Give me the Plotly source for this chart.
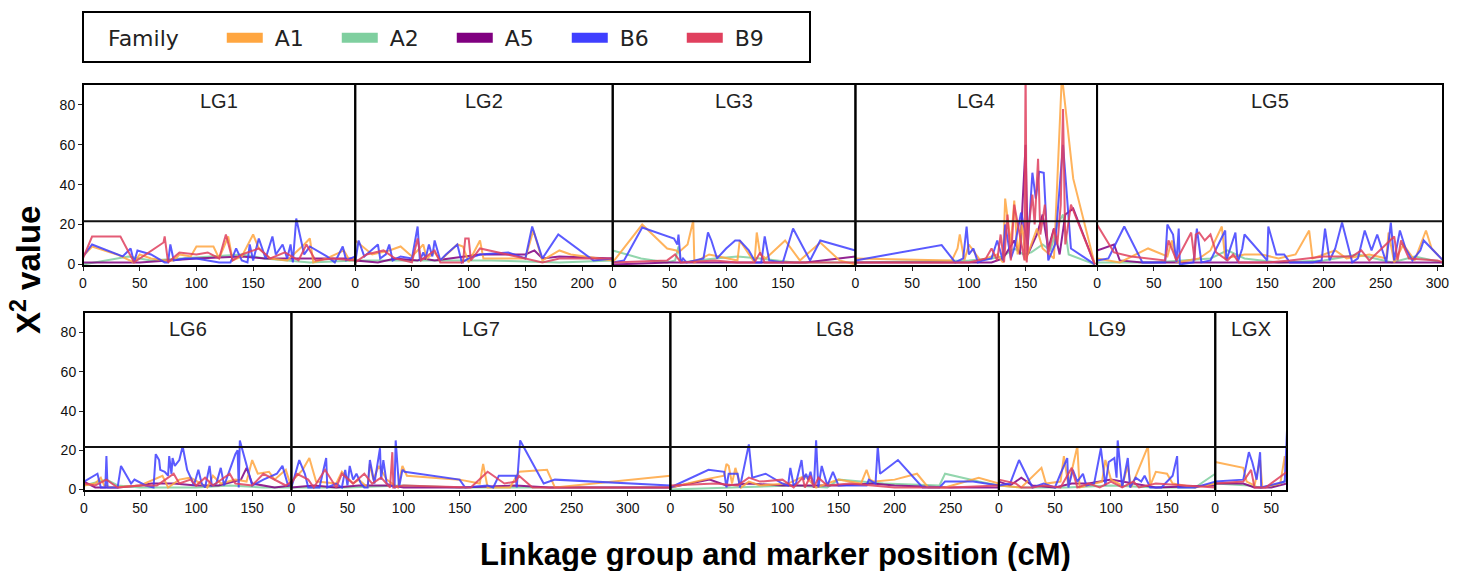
import plotly.graph_objects as go

W, H = 1461, 571

FAMILIES = ["A1", "A2", "A5", "B6", "B9"]
COLORS = {"A1": "#FFA640", "A2": "#7FCF9F", "A5": "#800080", "B6": "#3F3FFF", "B9": "#E0405E"}
DRAW_ORDER = ["A2", "A5", "A1", "B6", "B9"]

LG_NAMES = ["LG1", "LG2", "LG3", "LG4", "LG5", "LG6", "LG7", "LG8", "LG9", "LGX"]
LG_LENGTH = [240, 227, 214, 213, 305, 185, 338, 293, 193, 64]
LG_TICKS = [
    [0, 50, 100, 150, 200], [0, 50, 100, 150, 200], [0, 50, 100, 150], [0, 50, 100, 150],
    [0, 50, 100, 150, 200, 250, 300], [0, 50, 100, 150], [0, 50, 100, 150, 200, 250, 300],
    [0, 50, 100, 150, 200, 250], [0, 50, 100, 150], [0, 50],
]
Y_TICKS = [0, 20, 40, 60, 80]
THRESHOLD = 21.7

# ---------------- LG1 ----------------
LG1_A1_X = [0, 8, 30, 45, 50, 60, 72, 80, 85, 95, 100, 115, 120, 128, 132, 140, 150, 155, 165, 180, 195, 200, 203, 215, 230, 235, 240]
LG1_A1_Y = [4, 9, 5, 1, 5, 3, 2, 2, 5, 4, 9, 9, 3, 14, 2, 4, 15, 8, 3, 2, 10, 13, 1, 3, 7, 2, 3]
LG1_A2_X = [0, 40, 60, 120, 140, 160, 200, 240]
LG1_A2_Y = [0, 4, 2, 4, 5, 3, 1, 2]
LG1_A5_X = [0, 50, 100, 140, 160, 200, 240]
LG1_A5_Y = [1, 1, 3, 4, 3, 3, 3]
LG1_B6_X = [0, 8, 35, 42, 45, 48, 60, 72, 75, 77, 80, 90, 100, 110, 120, 130, 135, 140, 145, 147, 150, 155, 161, 167, 170, 176, 180, 183, 185, 188, 195, 200, 203, 215, 222, 229, 232, 240]
LG1_B6_Y = [4, 10, 4, 8, 1, 7, 5, 1, 1, 10, 2, 3, 3, 2, 1, 1, 8, 2, 1, 10, 2, 13, 3, 14, 5, 10, 3, 10, 1, 23, 5, 9, 8, 4, 1, 9, 2, 4]
LG1_B9_X = [0, 8, 33, 45, 71, 72, 75, 85, 100, 110, 120, 126, 132, 140, 155, 165, 178, 190, 197, 205, 220, 240]
LG1_B9_Y = [3, 14, 14, 1, 11, 14, 1, 6, 5, 6, 3, 15, 2, 5, 8, 3, 6, 2, 10, 2, 3, 2]

# ---------------- LG2 ----------------
LG2_A1_X = [0, 15, 30, 40, 50, 60, 63, 70, 75, 90, 95, 100, 110, 113, 150, 157, 165, 180, 190, 227]
LG2_A1_Y = [12, 5, 7, 9, 4, 10, 3, 6, 2, 10, 9, 1, 12, 3, 3, 17, 2, 7, 5, 2]
LG2_A2_X = [0, 60, 120, 180, 227]
LG2_A2_Y = [2, 2, 2, 1, 2]
LG2_A5_X = [0, 20, 35, 55, 60, 70, 110, 150, 158, 165, 180, 227]
LG2_A5_Y = [2, 1, 3, 2, 3, 2, 5, 5, 7, 3, 4, 3]
LG2_B6_X = [0, 3, 8, 20, 22, 27, 30, 33, 40, 50, 55, 57, 60, 62, 65, 68, 70, 75, 80, 90, 94, 100, 110, 135, 150, 156, 165, 179, 210, 227]
LG2_B6_Y = [1, 12, 4, 10, 3, 5, 10, 2, 4, 3, 19, 2, 6, 3, 10, 4, 12, 2, 5, 10, 1, 3, 5, 6, 3, 19, 3, 15, 2, 3]
LG2_B9_X = [0, 10, 25, 35, 50, 55, 58, 70, 75, 95, 97, 100, 102, 110, 150, 165, 180, 227]
LG2_B9_Y = [1, 5, 7, 3, 1, 13, 2, 7, 1, 1, 13, 13, 2, 8, 3, 1, 3, 3]

# ---------------- LG3 ----------------
LG3_A1_X = [0, 26, 48, 56, 58, 66, 71, 72, 85, 100, 110, 112, 120, 125, 127, 130, 135, 152, 165, 183, 200, 214]
LG3_A1_Y = [1, 20, 8, 7, 6, 10, 22, 1, 5, 3, 2, 12, 5, 1, 16, 5, 3, 12, 2, 11, 2, 0]
LG3_A2_X = [0, 25, 48, 55, 58, 60, 90, 110, 130, 160, 180, 214]
LG3_A2_Y = [7, 3, 1, 2, 9, 1, 3, 4, 3, 1, 1, 1]
LG3_A5_X = [0, 50, 100, 130, 170, 214]
LG3_A5_Y = [0, 1, 1, 1, 1, 4]
LG3_B6_X = [0, 10, 26, 49, 54, 57, 58, 60, 62, 65, 80, 84, 87, 92, 100, 108, 112, 120, 126, 131, 134, 138, 150, 159, 174, 183, 214]
LG3_B6_Y = [1, 2, 18.5, 14, 13, 10, 15, 1, 3, 1, 3, 16, 12, 3, 8, 12, 12, 7, 1, 1, 14, 2, 1, 18, 2, 12, 7]
LG3_B9_X = [0, 48, 55, 60, 90, 110, 125, 130, 134, 160, 214]
LG3_B9_Y = [1, 2, 5, 1, 2, 1, 1, 6, 1, 1, 1]

# ---------------- LG4 ----------------
LG4_A1_X = [0, 85, 90, 92, 96, 100, 110, 125, 130, 132, 137, 140, 143, 147, 150, 155, 160, 165, 175, 182, 192, 211]
LG4_A1_Y = [3, 2, 8, 15, 2, 10, 2, 5, 1, 33, 10, 32, 5, 20, 2, 10, 18, 8, 3, 95, 43, 0]
LG4_A2_X = [0, 100, 120, 130, 140, 148, 155, 165, 172, 178, 183, 188, 211]
LG4_A2_Y = [1, 2, 3, 4, 8, 5, 6, 10, 7, 20, 25, 5, 0]
LG4_A5_X = [0, 100, 120, 130, 140, 145, 150, 152, 160, 165, 170, 175, 180, 185, 192, 211]
LG4_A5_Y = [1, 1, 1, 3, 12, 5, 60, 5, 15, 25, 8, 18, 5, 25, 28, 0]
LG4_B6_X = [0, 76, 88, 95, 98, 100, 104, 108, 112, 120, 125, 130, 132, 137, 140, 146, 152, 156, 159, 162, 166, 170, 176, 183, 190, 211]
LG4_B6_Y = [2, 9.7, 1, 3, 19, 5, 8, 1, 2, 3, 12, 2, 20, 3, 8, 26, 10, 46, 33, 46.5, 46, 2, 10, 60, 8, 0]
LG4_B9_X = [0, 100, 115, 120, 125, 128, 131, 134, 137, 140, 149, 150, 151, 153, 156, 158, 161, 163, 167, 170, 175, 178, 181, 183, 185, 190, 211]
LG4_B9_Y = [1, 1, 3, 8, 2, 15, 1, 25, 2, 30, 2, 100, 1, 20, 35, 20, 53, 15, 30, 5, 18, 10, 30, 78, 10, 30, 0]

# ---------------- LG5 ----------------
LG5_A1_X = [0, 20, 45, 62, 66, 70, 90, 100, 110, 113, 130, 145, 160, 175, 187, 190, 210, 220, 240, 255, 257, 262, 270, 280, 290, 295, 305]
LG5_A1_Y = [3, 1, 8, 4, 12, 1, 3, 7, 19, 3, 5, 5, 3, 5, 17, 3, 7, 3, 5, 3, 16, 1, 10, 2, 17, 8, 2]
LG5_A2_X = [0, 50, 100, 115, 130, 160, 200, 230, 260, 280, 305]
LG5_A2_Y = [1, 1, 3, 7, 3, 1, 2, 5, 1, 4, 1]
LG5_A5_X = [0, 15, 20, 40, 80, 100, 150, 200, 250, 305]
LG5_A5_Y = [7, 10, 2, 1, 1, 1, 1, 1, 1, 1]
LG5_B6_X = [0, 10, 24, 40, 60, 62, 67, 70, 72, 73, 85, 88, 92, 100, 113, 114, 122, 124, 128, 130, 150, 151, 158, 165, 170, 190, 198, 201, 205, 210, 216, 225, 230, 236, 242, 247, 255, 259, 262, 267, 272, 278, 285, 288, 300, 305]
LG5_B6_Y = [2, 3, 19, 1, 1, 20, 15, 1, 18, 0, 1, 18, 1, 2, 17, 2, 16, 1, 8, 15, 2, 19, 5, 5, 1, 1, 2, 18, 2, 8, 21, 1, 3, 17, 7, 15, 1, 21, 2, 17, 8, 2, 7, 12, 5, 2]
LG5_B9_X = [0, 15, 30, 60, 63, 70, 83, 86, 87, 90, 95, 100, 105, 115, 120, 125, 150, 170, 200, 225, 233, 240, 262, 265, 268, 275, 300, 305]
LG5_B9_Y = [20, 6, 4, 2, 12, 2, 16, 2, 15, 16, 12, 15, 6, 2, 5, 1, 1, 2, 4, 4, 7, 2, 14, 2, 12, 3, 2, 1]

# ---------------- LG6 ----------------
LG6_A1_X = [0, 10, 15, 18, 25, 50, 70, 75, 85, 95, 110, 115, 122, 135, 145, 150, 155, 165, 170, 180, 185]
LG6_A1_Y = [2, 3, 6, 2, 1, 2, 7, 1, 5, 6, 1, 7, 3, 5, 4, 15, 8, 9, 5, 10, 1]
LG6_A2_X = [0, 20, 30, 50, 80, 100, 130, 160, 185]
LG6_A2_Y = [2, 5, 2, 1, 1, 1, 2, 1, 1]
LG6_A5_X = [0, 10, 30, 50, 60, 80, 100, 120, 140, 145, 150, 170, 185]
LG6_A5_Y = [4, 1, 1, 2, 3, 3, 2, 2, 5, 11, 3, 1, 2]
LG6_B6_X = [0, 12, 15, 19, 20, 21, 30, 33, 42, 45, 55, 60, 62, 64, 67, 68, 72, 75, 76, 78, 79, 81, 85, 88, 92, 96, 98, 102, 105, 108, 112, 114, 118, 122, 125, 130, 135, 137, 138, 139, 150, 160, 172, 177, 182, 185]
LG6_B6_Y = [4, 8, 1, 1, 17, 1, 1, 12, 3, 5, 2, 1, 1, 18, 15, 10, 9, 7, 17, 8, 16, 12, 15, 22, 10, 5, 2, 10, 3, 1, 12, 2, 3, 11, 2, 10, 18, 20, 1, 25, 2, 5, 8, 12, 2, 4]
LG6_B9_X = [0, 10, 20, 30, 50, 65, 70, 80, 85, 95, 100, 108, 115, 130, 135, 150, 160, 170, 180, 185]
LG6_B9_Y = [3, 2, 5, 1, 2, 2, 4, 8, 3, 5, 2, 6, 2, 8, 3, 2, 8, 5, 2, 4]

# ---------------- LG7 ----------------
LG7_A1_X = [0, 10, 16, 22, 40, 45, 55, 60, 68, 70, 73, 78, 85, 95, 99, 103, 150, 168, 171, 175, 195, 203, 228, 235, 338]
LG7_A1_Y = [4, 10, 16, 4, 3, 9, 3, 5, 1, 13, 5, 12, 5, 1, 12, 7, 5, 3, 13, 1, 1, 9, 10, 1, 7]
LG7_A2_X = [0, 50, 100, 150, 200, 338]
LG7_A2_Y = [1, 1, 2, 1, 1, 1]
LG7_A5_X = [0, 20, 40, 60, 90, 100, 150, 200, 230, 338]
LG7_A5_Y = [1, 2, 1, 2, 2, 1, 1, 2, 1, 1]
LG7_B6_X = [0, 7, 12, 15, 25, 31, 32, 40, 45, 48, 50, 52, 55, 58, 62, 65, 68, 70, 74, 79, 80, 82, 85, 92, 93, 96, 99, 101, 150, 155, 175, 180, 185, 200, 201, 204, 225, 235, 338]
LG7_B6_Y = [1, 15, 8, 1, 1, 16, 1, 3, 1, 10, 2, 12, 5, 8, 3, 1, 1, 15, 3, 21, 5, 15, 3, 1, 25, 1, 10, 9, 5, 1, 2, 1, 7, 7, 1, 25, 3, 5, 2]
LG7_B9_X = [0, 5, 15, 20, 30, 40, 45, 55, 65, 72, 80, 88, 90, 91, 100, 150, 160, 175, 190, 200, 203, 215, 338]
LG7_B9_Y = [3, 8, 5, 1, 10, 1, 8, 3, 8, 3, 6, 1, 19, 1, 2, 1, 1, 9, 3, 4, 7, 1, 1]

# ---------------- LG8 ----------------
LG8_A1_X = [0, 30, 48, 50, 52, 55, 58, 63, 70, 80, 105, 120, 130, 150, 170, 175, 178, 182, 200, 220, 230, 245, 275, 293]
LG8_A1_Y = [1, 5, 7, 13, 12, 3, 11, 1, 4, 2, 3, 7, 1, 5, 3, 10, 5, 4, 5, 8, 1, 1, 6, 3]
LG8_A2_X = [0, 60, 110, 140, 150, 170, 190, 240, 245, 275, 293]
LG8_A2_Y = [0, 1, 2, 1, 5, 4, 3, 2, 8, 4, 2]
LG8_A5_X = [0, 35, 50, 70, 100, 150, 180, 200, 250, 293]
LG8_A5_Y = [1, 5, 2, 3, 2, 2, 3, 2, 1, 1]
LG8_B6_X = [0, 34, 48, 50, 52, 60, 62, 70, 73, 85, 100, 105, 107, 110, 112, 117, 119, 121, 123, 125, 128, 130, 132, 135, 140, 145, 150, 175, 177, 183, 185, 187, 203, 225, 240, 245, 270, 293]
LG8_B6_Y = [1, 10, 9, 1, 8, 8, 1, 23, 6, 8, 3, 2, 11, 2, 3, 15, 5, 8, 5, 9, 1, 25, 1, 12, 2, 9, 2, 2, 5, 3, 22, 8, 15, 1, 1, 4, 4, 2]
LG8_B9_X = [0, 40, 60, 70, 80, 100, 110, 118, 120, 125, 128, 132, 140, 160, 200, 250, 293]
LG8_B9_Y = [2, 3, 2, 6, 4, 5, 1, 6, 1, 7, 1, 6, 2, 3, 1, 1, 2]

# ---------------- LG9 ----------------
LG9_A1_X = [0, 20, 38, 42, 55, 58, 62, 70, 72, 92, 95, 100, 110, 115, 118, 133, 135, 140, 150, 155, 175, 193]
LG9_A1_Y = [2, 1, 11, 3, 4, 17, 2, 22, 1, 4, 15, 5, 2, 12, 1, 22, 2, 9, 8, 3, 1, 3]
LG9_A2_X = [0, 20, 40, 60, 100, 140, 160, 175, 193]
LG9_A2_Y = [2, 1, 1, 1, 2, 1, 1, 1, 8]
LG9_A5_X = [0, 10, 20, 30, 50, 65, 80, 100, 120, 140, 193]
LG9_A5_Y = [4, 2, 6, 2, 1, 3, 3, 5, 3, 1, 2]
LG9_B6_X = [0, 10, 18, 30, 40, 50, 55, 61, 62, 66, 70, 75, 78, 85, 91, 95, 98, 103, 105, 106, 110, 115, 117, 122, 127, 130, 135, 145, 155, 159, 160, 175, 193]
LG9_B6_Y = [2, 3, 15, 1, 3, 1, 8, 16, 1, 10, 4, 8, 2, 3, 21, 2, 14, 16, 6, 25, 1, 16, 1, 6, 4, 7, 1, 1, 7, 17, 1, 1, 4]
LG9_B9_X = [0, 15, 20, 30, 40, 55, 65, 70, 80, 90, 100, 110, 120, 125, 140, 193]
LG9_B9_Y = [5, 3, 1, 1, 2, 1, 11, 1, 3, 1, 4, 1, 4, 1, 3, 1]

# ---------------- LGX ----------------
LGX_A1_X = [0, 25, 28, 35, 40, 42, 58, 62, 64]
LGX_A1_Y = [14, 11, 4, 2, 15, 1, 3, 17, 2]
LGX_A2_X = [0, 30, 40, 55, 64]
LGX_A2_Y = [3, 2, 1, 2, 5]
LGX_A5_X = [0, 25, 35, 50, 64]
LGX_A5_Y = [3, 3, 1, 1, 3]
LGX_B6_X = [0, 25, 30, 33, 37, 40, 41, 55, 62, 64]
LGX_B6_Y = [4, 5, 19, 14, 5, 19, 1, 3, 4, 30]
LGX_B9_X = [0, 25, 32, 35, 45, 55, 64]
LGX_B9_Y = [3, 4, 10, 1, 1, 5, 9]

SERIES = {
    "LG1": {"A1": (LG1_A1_X, LG1_A1_Y), "A2": (LG1_A2_X, LG1_A2_Y), "A5": (LG1_A5_X, LG1_A5_Y), "B6": (LG1_B6_X, LG1_B6_Y), "B9": (LG1_B9_X, LG1_B9_Y)},
    "LG2": {"A1": (LG2_A1_X, LG2_A1_Y), "A2": (LG2_A2_X, LG2_A2_Y), "A5": (LG2_A5_X, LG2_A5_Y), "B6": (LG2_B6_X, LG2_B6_Y), "B9": (LG2_B9_X, LG2_B9_Y)},
    "LG3": {"A1": (LG3_A1_X, LG3_A1_Y), "A2": (LG3_A2_X, LG3_A2_Y), "A5": (LG3_A5_X, LG3_A5_Y), "B6": (LG3_B6_X, LG3_B6_Y), "B9": (LG3_B9_X, LG3_B9_Y)},
    "LG4": {"A1": (LG4_A1_X, LG4_A1_Y), "A2": (LG4_A2_X, LG4_A2_Y), "A5": (LG4_A5_X, LG4_A5_Y), "B6": (LG4_B6_X, LG4_B6_Y), "B9": (LG4_B9_X, LG4_B9_Y)},
    "LG5": {"A1": (LG5_A1_X, LG5_A1_Y), "A2": (LG5_A2_X, LG5_A2_Y), "A5": (LG5_A5_X, LG5_A5_Y), "B6": (LG5_B6_X, LG5_B6_Y), "B9": (LG5_B9_X, LG5_B9_Y)},
    "LG6": {"A1": (LG6_A1_X, LG6_A1_Y), "A2": (LG6_A2_X, LG6_A2_Y), "A5": (LG6_A5_X, LG6_A5_Y), "B6": (LG6_B6_X, LG6_B6_Y), "B9": (LG6_B9_X, LG6_B9_Y)},
    "LG7": {"A1": (LG7_A1_X, LG7_A1_Y), "A2": (LG7_A2_X, LG7_A2_Y), "A5": (LG7_A5_X, LG7_A5_Y), "B6": (LG7_B6_X, LG7_B6_Y), "B9": (LG7_B9_X, LG7_B9_Y)},
    "LG8": {"A1": (LG8_A1_X, LG8_A1_Y), "A2": (LG8_A2_X, LG8_A2_Y), "A5": (LG8_A5_X, LG8_A5_Y), "B6": (LG8_B6_X, LG8_B6_Y), "B9": (LG8_B9_X, LG8_B9_Y)},
    "LG9": {"A1": (LG9_A1_X, LG9_A1_Y), "A2": (LG9_A2_X, LG9_A2_Y), "A5": (LG9_A5_X, LG9_A5_Y), "B6": (LG9_B6_X, LG9_B6_Y), "B9": (LG9_B9_X, LG9_B9_Y)},
    "LGX": {"A1": (LGX_A1_X, LGX_A1_Y), "A2": (LGX_A2_X, LGX_A2_Y), "A5": (LGX_A5_X, LGX_A5_Y), "B6": (LGX_B6_X, LGX_B6_Y), "B9": (LGX_B9_X, LGX_B9_Y)},
}

# ---------------- layout geometry (pixels) ----------------
ROWS = [
    {"lgs": [0, 1, 2, 3, 4], "left": 83, "right": 1443, "top": 84, "bottom": 266},
    {"lgs": [5, 6, 7, 8, 9], "left": 84, "right": 1287, "top": 312, "bottom": 491},
]
Y_RANGE = [-0.8, 90.5]
FONT = "Liberation Sans, Arial, sans-serif"

fig = go.Figure()
layout = dict(
    width=W, height=H, margin=dict(l=0, r=0, t=0, b=0, autoexpand=False),
    paper_bgcolor="white", plot_bgcolor="white",
    font=dict(family=FONT, color="#111"),
)
shapes, annotations = [], []

for r, row in enumerate(ROWS):
    ykey = "yaxis" if r == 0 else "yaxis2"
    yref = "y" if r == 0 else "y2"
    total = sum(LG_LENGTH[i] for i in row["lgs"])
    span = row["right"] - row["left"]
    first_xref = None
    x_px = row["left"]
    for k, i in enumerate(row["lgs"]):
        n = i + 1
        xkey = "xaxis" if n == 1 else f"xaxis{n}"
        xref = "x" if n == 1 else f"x{n}"
        w_px = span * LG_LENGTH[i] / total
        d0, d1 = x_px / W, (x_px + w_px) / W
        x_px += w_px
        layout[xkey] = dict(
            domain=[d0, d1], range=[0, LG_LENGTH[i]], anchor=yref, automargin=False,
            tickmode="array", tickvals=LG_TICKS[i], ticks="outside", ticklen=4,
            tickcolor="#222", tickfont=dict(size=14, family=FONT, color="#111"),
            showgrid=False, zeroline=False, showline=False, fixedrange=True,
        )
        if k == 0:
            first_xref = xref
        name = LG_NAMES[i]
        for fam in DRAW_ORDER:
            xs, ys = SERIES[name][fam]
            fig.add_trace(go.Scatter(
                x=xs, y=ys, mode="lines", xaxis=xref, yaxis=yref,
                line=dict(color=COLORS[fam], width=2), opacity=0.85,
                showlegend=False, legendgroup=fam, hoverinfo="skip",
            ))
        shapes.append(dict(type="rect", xref=f"{xref} domain", yref=f"{yref} domain",
                           x0=0, x1=1, y0=0, y1=1, line=dict(color="black", width=2), layer="above"))
        annotations.append(dict(text=name, xref=f"{xref} domain", yref=f"{yref} domain",
                                x=0.5, y=0.905, showarrow=False, xanchor="center", yanchor="middle",
                                font=dict(size=20, family=FONT, color="#222")))
    layout[ykey] = dict(
        domain=[1 - row["bottom"] / H, 1 - row["top"] / H], range=Y_RANGE, anchor=first_xref,
        automargin=False,
        tickmode="array", tickvals=Y_TICKS, ticks="outside", ticklen=4, tickcolor="#222",
        tickfont=dict(size=14, family=FONT, color="#111"),
        showgrid=False, zeroline=False, showline=False, fixedrange=True,
    )
    shapes.append(dict(type="line", xref="paper", yref=yref,
                       x0=row["left"] / W, x1=row["right"] / W, y0=THRESHOLD, y1=THRESHOLD,
                       line=dict(color="#111", width=2), layer="above"))

# legend entries
for fam in FAMILIES:
    fig.add_trace(go.Scatter(x=[None], y=[None], mode="lines", name=" " + fam,
                             line=dict(color=COLORS[fam], width=10), legendgroup=fam,
                             xaxis="x", yaxis="y"))

layout["legend"] = dict(
    orientation="h", x=106 / W, y=1 - 38 / H, xanchor="left", yanchor="middle",
    title=dict(text="Family" + "\u00a0" * 5, font=dict(size=22, family="DejaVu Sans", color="#222"), side="left"),
    font=dict(size=22, family="DejaVu Sans", color="#222"),
    itemwidth=36, entrywidth=64, entrywidthmode="pixels",
    bgcolor="rgba(0,0,0,0)", borderwidth=0, traceorder="normal",
)
shapes.append(dict(type="rect", xref="paper", yref="paper",
                   x0=83 / W, x1=810 / W, y0=1 - 62 / H, y1=1 - 12 / H,
                   line=dict(color="black", width=2)))

annotations.append(dict(text="<b>Linkage group and marker position (cM)</b>", xref="paper", yref="paper",
                        x=776 / W, y=1 - 554 / H, showarrow=False, xanchor="center", yanchor="middle",
                        font=dict(size=31, family=FONT, color="black")))
annotations.append(dict(text="<b>X<sup>2</sup> value</b>", xref="paper", yref="paper",
                        x=26 / W, y=1 - 270 / H, showarrow=False, xanchor="center", yanchor="middle",
                        textangle=-90, font=dict(size=33, family=FONT, color="black")))

layout["shapes"] = shapes
layout["annotations"] = annotations
fig.update_layout(**layout)
fig.write_html("out.html", config={"displayModeBar": False},
               post_script="document.body.style.margin='0px';document.body.style.overflow='hidden';")
